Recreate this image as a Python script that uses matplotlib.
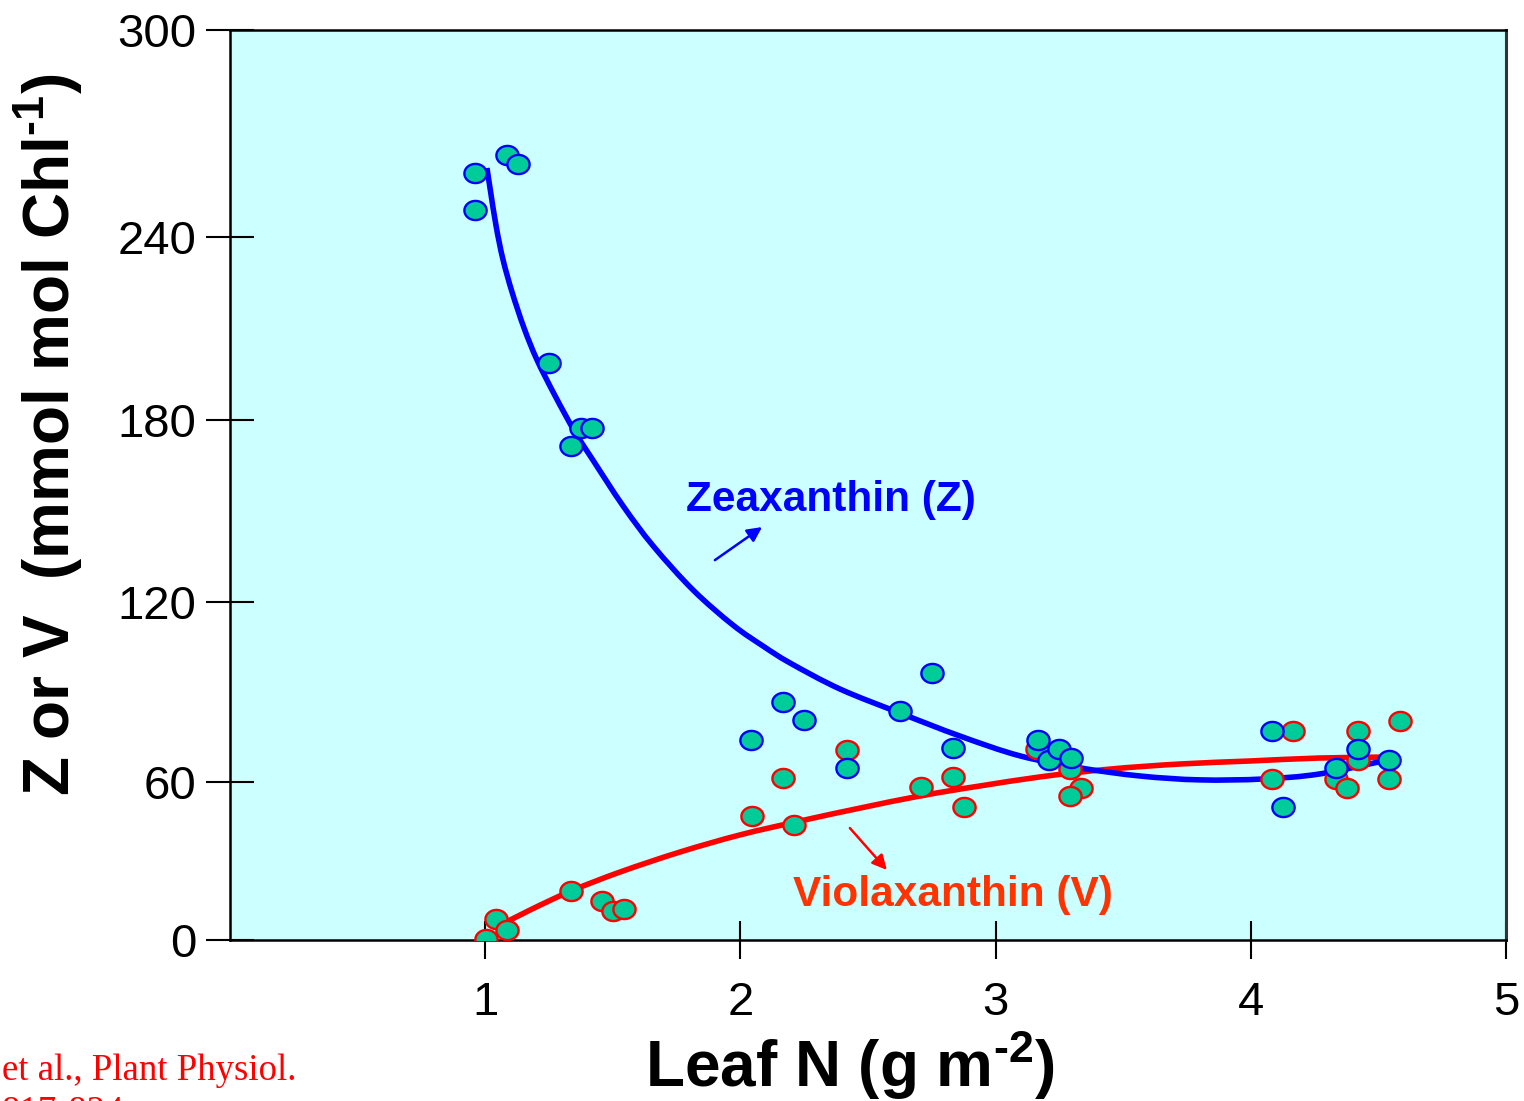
import numpy as np
import matplotlib
matplotlib.use('Agg')
import matplotlib.pyplot as plt
from matplotlib.path import Path
from matplotlib.patches import PathPatch

plt.rcParams['font.family'] = ['Liberation Sans', 'DejaVu Sans']
plt.rcParams['mathtext.fontset'] = 'custom'
plt.rcParams['mathtext.rm'] = 'Liberation Sans:bold'
plt.rcParams['mathtext.bf'] = 'Liberation Sans:bold'

# Zeaxanthin (Z) measurements
z_n = [0.960, 0.960, 1.085, 1.129, 1.250, 1.336, 1.375, 1.418,
       2.042, 2.167, 2.249, 2.418, 2.625, 2.751, 2.833,
       3.166, 3.209, 3.248, 3.295,
       4.083, 4.126, 4.334, 4.420, 4.542]
z_val = [258.6, 247.8, 263.8, 261.2, 198.7, 171.4, 177.4, 177.4,
         74.0, 86.7, 80.7, 64.7, 83.7, 96.3, 71.3,
         74.0, 67.3, 71.0, 68.0,
         77.0, 50.5, 64.7, 71.0, 67.3]

# Violaxanthin (V) measurements
v_n = [1.003, 1.042, 1.085, 1.336, 1.458, 1.501, 1.544,
       2.045, 2.210, 2.167, 2.418, 2.708, 2.833, 2.876,
       3.162, 3.292, 3.335, 3.292,
       4.165, 4.083, 4.334, 4.377, 4.420, 4.420, 4.542, 4.585]
v_val = [0.4, 8.0, 3.8, 18.6, 14.8, 11.0, 11.8,
         47.1, 43.7, 61.3, 70.7, 58.1, 61.7, 50.5,
         71.0, 64.3, 57.7, 54.7,
         77.0, 61.0, 61.0, 57.7, 77.0, 67.3, 61.0, 80.3]

# fitted curves
z_fit_n = [1.007, 1.023, 1.042, 1.070, 1.105, 1.152, 1.203, 1.274, 1.352,
           1.422, 1.540, 1.658, 1.814, 1.971, 2.089, 2.194, 2.390, 2.625,
           2.861, 3.096, 3.331, 3.566, 3.801, 4.048, 4.271, 4.534]
z_fit = [260.0, 252.2, 243.5, 232.5, 222.0, 210.2, 199.7, 187.9, 176.0,
         166.8, 151.7, 138.5, 124.0, 112.3, 105.3, 99.7, 91.0, 83.0,
         75.3, 68.7, 64.7, 62.0, 60.7, 61.0, 62.7, 67.3]
v_fit_n = [1.038, 1.176, 1.336, 1.528, 1.763, 1.998, 2.234, 2.469, 2.704,
           2.939, 3.174, 3.448, 3.723, 3.997, 4.271, 4.526]
v_fit = [4.6, 11.4, 18.6, 25.8, 33.4, 39.9, 45.2, 50.1, 54.7,
         58.5, 61.7, 64.3, 66.0, 67.0, 68.0, 68.3]

x_ticks = [1, 2, 3, 4, 5]
y_ticks = [0, 60, 120, 180, 240, 300]

# the original axis is not evenly spaced; keep the ticks where they were drawn
y_drawn = [0, 158, 338, 520, 703, 910]
def fwd(y):
    return np.interp(y, y_ticks, y_drawn)
def inv(y):
    return np.interp(y, y_drawn, y_ticks)


def smooth(xs, ys):
    # catmull-rom through the points, as cubic bezier segments
    p = np.column_stack([xs, ys])
    verts, codes = [p[0]], [Path.MOVETO]
    for i in range(len(p) - 1):
        p0 = p[i - 1] if i > 0 else p[i]
        p3 = p[i + 2] if i + 2 < len(p) else p[i + 1]
        verts += [p[i] + (p[i + 1] - p0) / 6, p[i + 1] - (p3 - p[i]) / 6, p[i + 1]]
        codes += [Path.CURVE4] * 3
    return Path(verts, codes)


t = np.linspace(0, 2 * np.pi, 60)
oval = Path(np.column_stack([1.16 * np.cos(t), np.sin(t)]), closed=True)

fig = plt.figure(figsize=(15.24, 11.01), dpi=100)
ax = fig.add_axes([230 / 1524, 1 - 940 / 1101, 1276 / 1524, 910 / 1101])
ax.set_facecolor('#ccffff')
ax.set_yscale('function', functions=(fwd, inv))
ax.set_xlim(0, 5)
ax.set_ylim(0, 300)

ax.add_patch(PathPatch(smooth(v_fit_n, v_fit), fill=False, ec='#ff0000',
                       lw=4, capstyle='butt', zorder=2))
ax.add_patch(PathPatch(smooth(z_fit_n, z_fit), fill=False, ec='#0000ff',
                       lw=4, capstyle='butt', zorder=2))
ax.plot(v_n, v_val, ls='none', marker=oval, ms=16, mfc='#00cc99',
        mec='#ff0000', mew=1.7, zorder=3)
ax.plot(z_n, z_val, ls='none', marker=oval, ms=16, mfc='#00cc99',
        mec='#0000ff', mew=1.7, zorder=4)

ax.text(1.787, 153.6, 'Zeaxanthin (Z)', color='#0000ff', fontsize=30.5,
        fontweight='bold', ha='left', va='center')
ax.annotate('', xy=(2.085, 144.7), xytext=(1.900, 133.8),
            arrowprops=dict(arrowstyle='-|>', color='#0000ff', lw=1.8,
                            mutation_scale=22, shrinkA=0, shrinkB=0))
ax.text(2.206, 17.1, 'Violaxanthin (V)', color='#ff3300', fontsize=30.5,
        fontweight='bold', ha='left', va='center')
ax.annotate('', xy=(2.574, 26.6), xytext=(2.429, 42.5),
            arrowprops=dict(arrowstyle='-|>', color='#ff0000', lw=1.8,
                            mutation_scale=22, shrinkA=0, shrinkB=0))

ax.set_xticks(x_ticks)
ax.set_xticklabels([str(v) for v in x_ticks])
ax.set_yticks(y_ticks)
ax.set_yticklabels([str(v) for v in y_ticks])
ax.minorticks_off()
ax.tick_params(axis='x', direction='inout', length=27, width=1.5, pad=16,
               labelsize=34)
ax.tick_params(axis='y', direction='inout', length=34, width=1.5, pad=7,
               labelsize=34)
for s in ['left', 'bottom', 'top']:
    ax.spines[s].set_linewidth(1.8)
ax.spines['right'].set_linewidth(2.2)
ax.spines['right'].set_color('#333333')

fig.text(48 / 1524, 1 - 435 / 1101, r'Z or V  (mmol mol Chl$^{\text{-1}}$)',
         rotation=90, fontsize=46, fontweight='bold', ha='center', va='center')
fig.text(850 / 1524, 1 - 1087 / 1101, r'Leaf N (g m$^{\text{-2}}$)',
         fontsize=46, fontweight='bold', ha='center', va='baseline')

fig.text(2 / 1524, 1 - 1080 / 1101, 'et al., Plant Physiol.',
         family=['Liberation Serif', 'DejaVu Serif'], color='#ff0000',
         fontsize=26.5, ha='left', va='baseline')
fig.text(2 / 1524, 1 - 1122 / 1101, '817-824',
         family=['Liberation Serif', 'DejaVu Serif'], color='#ff0000',
         fontsize=26.5, ha='left', va='baseline')

fig.savefig('out.png', dpi=100)
